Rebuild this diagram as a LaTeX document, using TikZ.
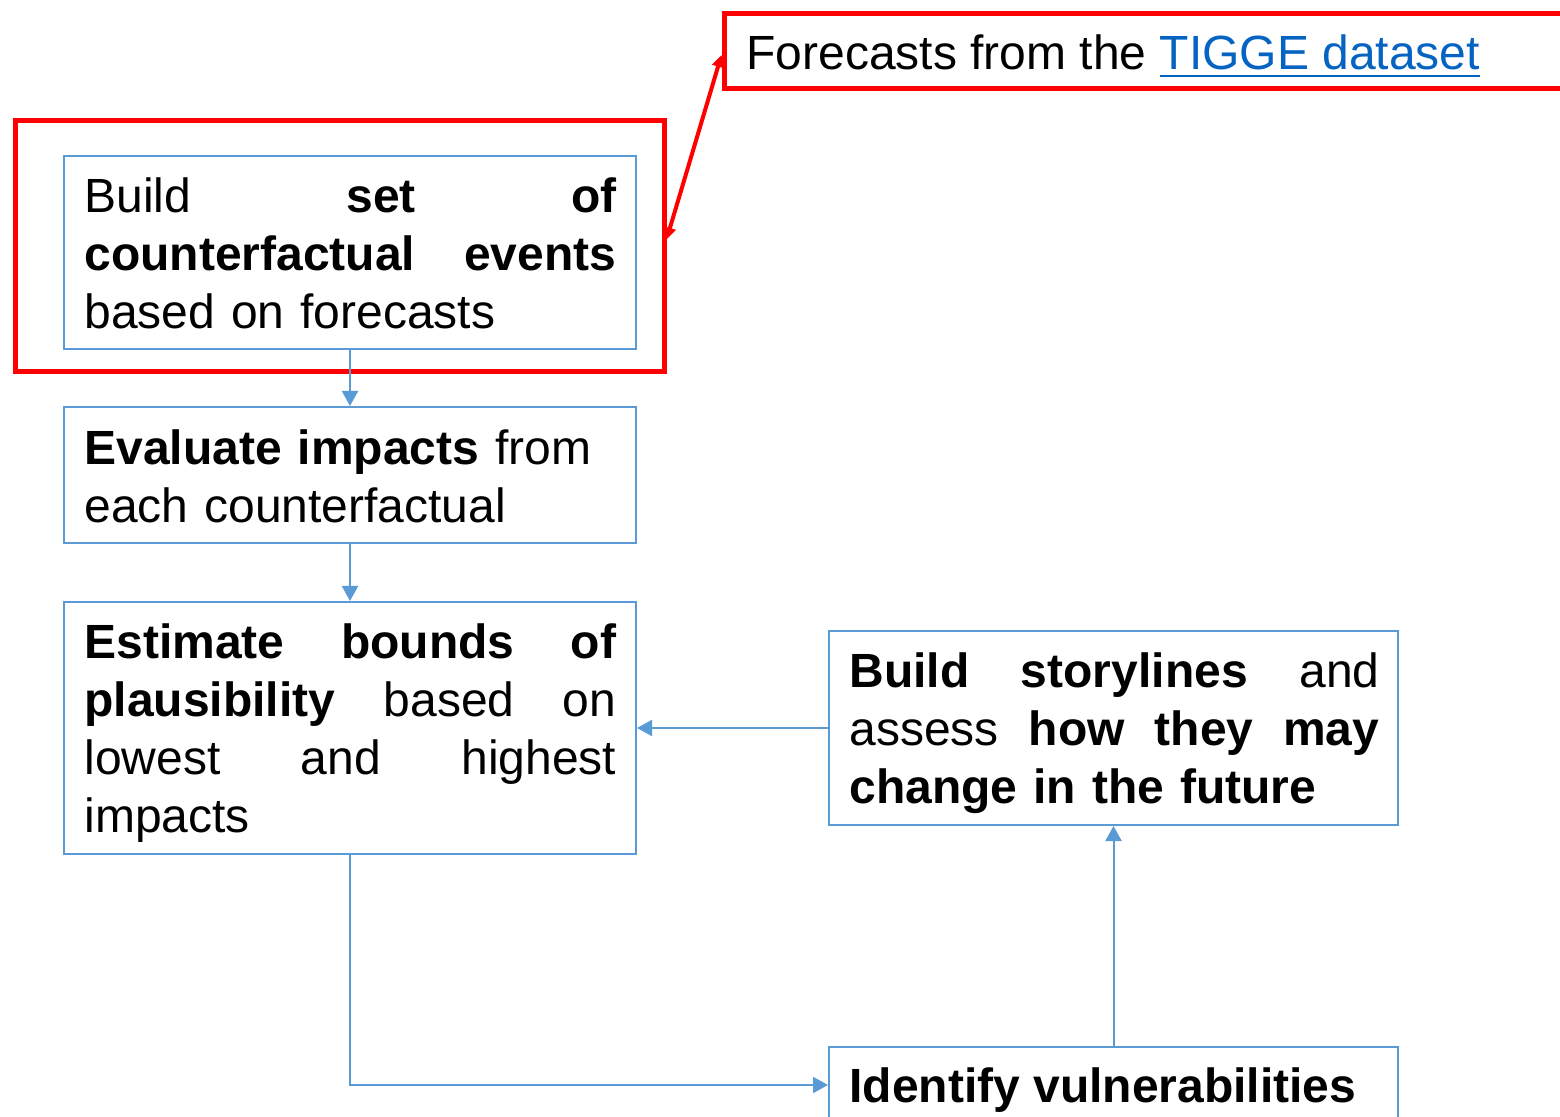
\documentclass[tikz,border=0pt]{standalone}
\usepackage{fontspec}
\setmainfont{Liberation Sans}
\usetikzlibrary{arrows.meta,fit}
\definecolor{boxblue}{HTML}{5B9BD5}
\definecolor{linkblue}{HTML}{0563C1}
\newcommand{\linkul}[1]{{\color{linkblue}\setbox0\hbox{#1}\rlap{\rule[-3.7pt]{\wd0}{1.2pt}}\box0}}
\begin{document}
\begin{tikzpicture}[x=0.5pt,y=-0.5pt,
  box/.style={draw=boxblue,line width=1pt,inner sep=0pt,fill=white},
  redbox/.style={draw=red,line width=2.5pt,inner sep=0pt},
  txt/.style={anchor=north west,inner sep=0pt,align=left,font=\fontsize{24}{29}\selectfont},
  arr/.style={draw=boxblue,line width=1pt,-{Triangle[width=8pt,length=7.5pt]}},
  redarr/.style={draw=red,line width=2pt,{Triangle[width=6pt,length=6pt]}-{Triangle[width=6pt,length=6pt]}}]
\clip (0,0) rectangle (1560,1117);
\fill[white] (0,0) rectangle (1560,1117);
% boxes
\node[box,fit={(64,156) (636,349)}] (b1) {};
\node[box,fit={(64,407) (636,543)}] (b2) {};
\node[box,fit={(64,602) (636,854)}] (b3) {};
\node[box,fit={(829,631) (1398,825)}] (b4) {};
\node[box,fit={(829,1047) (1398,1123)}] (b5) {};
\node[redbox,fit={(15,121) (664,372)}] (r1) {};
\node[redbox,fit={(724,14) (1600,89)}] (r0) {};
% texts
\node[txt,text width=266pt] (t1) at (84,177.5) {Build\hfill\textbf{set}\hfill\textbf{of}\\
\textbf{counterfactual}\hfill\textbf{events}\\
based on forecasts};
\node[txt,text width=266pt] (t2) at (84,429.5) {\textbf{Evaluate impacts} from\\
each counterfactual};
\node[txt,text width=266pt] (t3) at (84,623.5) {\textbf{Estimate}\hfill\textbf{bounds}\hfill\textbf{of}\\
\textbf{plausibility}\hfill based\hfill on\\
lowest\hfill and\hfill highest\\
impacts};
\node[txt,text width=265pt] (t4) at (849,652.5) {\textbf{Build}\hfill\textbf{storylines}\hfill and\\
assess\hfill\textbf{how}\hfill\textbf{they}\hfill\textbf{may}\\
\textbf{change in the future}};
\node[txt] (t5) at (849,1067.5) {\textbf{Identify vulnerabilities}};
\node[txt] (t0) at (746,34.5) {Forecasts from the \linkul{TIGGE dataset}};
% connectors
\draw[arr] (b1.south) -- (b2.north);
\draw[arr] (b2.south) -- (b3.north);
\draw[arr] (b4.west) -- (b4.west -| b3.east);
\draw[arr] (b3.south) |- (b5.west);
\draw[arr] (b5.north) -- (b4.south);
\draw[redarr] ([yshift=3.5pt]r1.east) -- ([yshift=-1.75pt]r0.west);
\end{tikzpicture}
\end{document}
